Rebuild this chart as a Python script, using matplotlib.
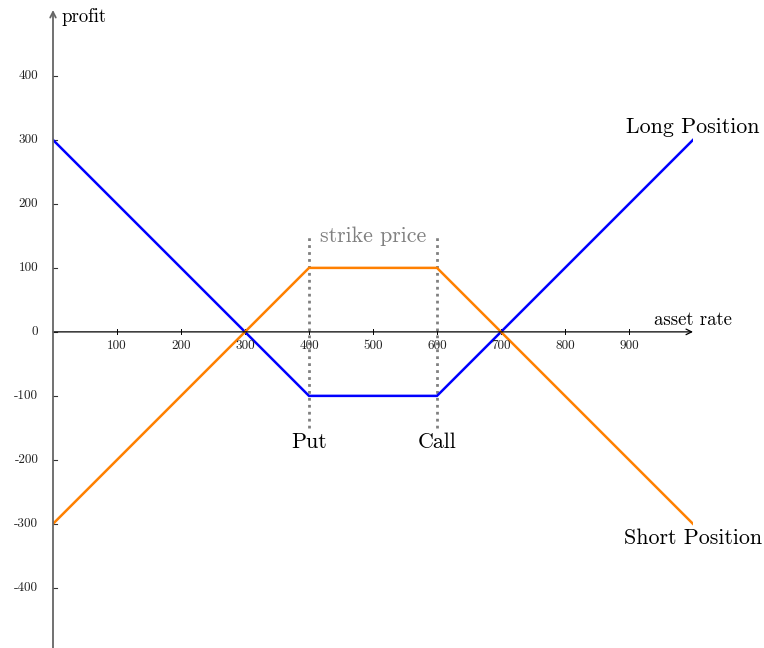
import matplotlib
matplotlib.use("Agg")
import matplotlib.pyplot as plt

# payoff data
asset = [0, 300, 400, 600, 700, 1000]
long_profit = [300, 0, -100, -100, 0, 300]
short_profit = [-300, 0, 100, 100, 0, -300]
strikes = [400, 600]
strike_names = ["Put", "Call"]
xticks = [100, 200, 300, 400, 500, 600, 700, 800, 900]
yticks = [-400, -300, -200, -100, 0, 100, 200, 300, 400]

plt.rcParams['font.family'] = ['cmr10', 'DejaVu Serif']

fig = plt.figure(figsize=(7.64, 6.48), dpi=100)
ax = fig.add_axes([53 / 764, 0, 640 / 764, 638 / 648])
ax.set_xlim(0, 1000)
ax.set_ylim(-494, 503)
ax.axis('off')

# axes with arrows
ax.annotate('', xy=(1000, 0), xytext=(0, 0),
            arrowprops=dict(arrowstyle='->', color='black', lw=0.9, shrinkA=0, shrinkB=0))
ax.annotate('', xy=(0, 503), xytext=(0, -494),
            arrowprops=dict(arrowstyle='->', color='#666666', lw=1.3, shrinkA=0, shrinkB=0))

# ticks
for t in xticks:
    ax.plot([t, t], [-4, 4], color='black', lw=0.7)
    ax.text(t, -22, str(t), ha='center', va='center', fontsize=9.5, color='#222222')
for t in yticks:
    ax.plot([-5.5, 5.5], [t, t], color='#333333', lw=0.8)
    ax.text(-23, t, str(t), ha='right', va='center', fontsize=9.5, color='#222222')

ax.text(14, 492, 'profit', ha='left', va='center', fontsize=13.5)
ax.text(1000, 19, 'asset rate', ha='center', va='center', fontsize=13.5)

# strike lines
for s, name in zip(strikes, strike_names):
    ax.plot([s, s], [-150, 150], color='gray', lw=2, linestyle=(0, (1, 1.5)))
    ax.text(s, -172, name, ha='center', va='center', fontsize=15.8)
ax.text(500, 150, 'strike price', ha='center', va='center', fontsize=15.8, color='gray')

ax.plot(asset, long_profit, color='#0000ff', lw=1.8, solid_joinstyle='miter')
ax.plot(asset, short_profit, color='#ff8000', lw=1.8, solid_joinstyle='miter')

ax.text(1000, 320, 'Long Position', ha='center', va='center', fontsize=15.8)
ax.text(1000, -322, 'Short Position', ha='center', va='center', fontsize=15.8)

fig.savefig('out.png', dpi=100)
